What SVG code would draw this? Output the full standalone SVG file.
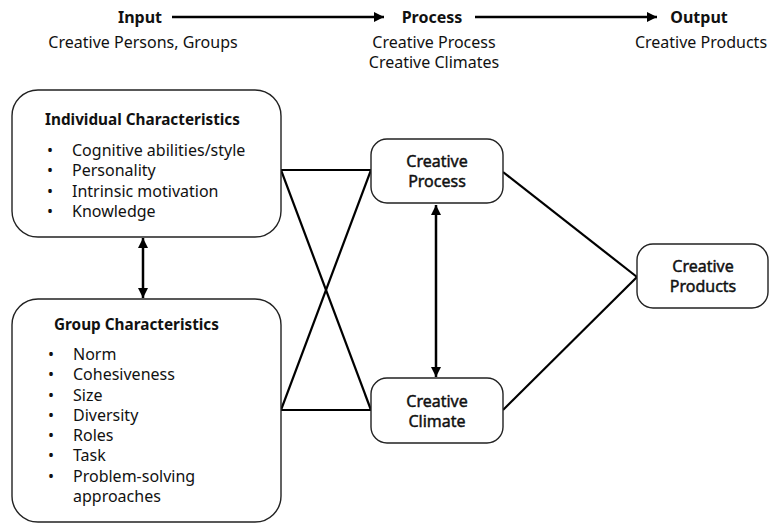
<svg xmlns="http://www.w3.org/2000/svg" width="770" height="524" viewBox="0 0 770 524">
<defs>
<marker id="ah" viewBox="0 0 10 10" refX="10" refY="5" markerWidth="4" markerHeight="4" orient="auto-start-reverse" markerUnits="strokeWidth">
<path d="M0,0 L10,5 L0,10 z" fill="#000"/>
</marker>
</defs>
<style>
text{font-family:"Noto Sans","Open Sans",sans-serif;fill:#111;font-size:16px}
.b{font-weight:700}
.t{font-size:15.3px}
.m{stroke:#111;stroke-width:0.45}
.c{text-anchor:middle}
.box{fill:#fff;stroke:#222;stroke-width:1.4}
.ln{stroke:#000;stroke-width:2.2;fill:none}
.ar{stroke:#000;stroke-width:2.5;fill:none;marker-end:url(#ah)}
.da{stroke:#000;stroke-width:2.5;fill:none;marker-end:url(#ah);marker-start:url(#ah)}
</style>
<rect width="770" height="524" fill="#fff"/>
<g id="header">
<text class="b c" x="140" y="23">Input</text>
<text class="b c" x="432" y="23">Process</text>
<text class="b c" x="699" y="23">Output</text>
<text class="c" x="143" y="48">Creative Persons, Groups</text>
<text class="c" x="434" y="48">Creative Process</text>
<text class="c" x="434" y="68">Creative Climates</text>
<text class="c" x="701" y="48">Creative Products</text>
</g>
<g id="connectors">
<line class="ar" x1="172" y1="17" x2="384" y2="17"/>
<line class="ar" x1="475" y1="17" x2="657" y2="17"/>
<line class="da" x1="143" y1="238" x2="143" y2="298"/>
<line class="da" x1="436" y1="205" x2="436" y2="377"/>
<line class="ln" x1="281" y1="170" x2="371" y2="170"/>
<line class="ln" x1="281" y1="410" x2="371" y2="410"/>
<line class="ln" x1="281" y1="170" x2="371" y2="410"/>
<line class="ln" x1="281" y1="410" x2="371" y2="170"/>
<line class="ln" x1="503" y1="172" x2="637" y2="277"/>
<line class="ln" x1="503" y1="410" x2="637" y2="277"/>
</g>
<g id="individual">
<rect class="box" x="12" y="90" width="269" height="147" rx="26"/>
<text class="b t" x="45" y="125">Individual Characteristics</text>
<text x="47" y="156">•</text><text x="72" y="156">Cognitive abilities/style</text>
<text x="47" y="176">•</text><text x="72" y="176">Personality</text>
<text x="47" y="197">•</text><text x="72" y="197">Intrinsic motivation</text>
<text x="47" y="217">•</text><text x="72" y="217">Knowledge</text>
</g>
<g id="group">
<rect class="box" x="12" y="299" width="269" height="223" rx="26"/>
<text class="b t" x="54" y="330">Group Characteristics</text>
<text x="48" y="360">•</text><text x="73" y="360">Norm</text>
<text x="48" y="380">•</text><text x="73" y="380">Cohesiveness</text>
<text x="48" y="401">•</text><text x="73" y="401">Size</text>
<text x="48" y="421">•</text><text x="73" y="421">Diversity</text>
<text x="48" y="441">•</text><text x="73" y="441">Roles</text>
<text x="48" y="461">•</text><text x="73" y="461">Task</text>
<text x="48" y="482">•</text><text x="73" y="482">Problem-solving</text>
<text x="73" y="502">approaches</text>
</g>
<g id="process">
<rect class="box" x="371" y="139" width="132" height="64" rx="16"/>
<text class="m c" x="437" y="167">Creative</text>
<text class="m c" x="437" y="187">Process</text>
</g>
<g id="climate">
<rect class="box" x="371" y="378" width="132" height="65" rx="16"/>
<text class="m c" x="437" y="407">Creative</text>
<text class="m c" x="437" y="427">Climate</text>
</g>
<g id="products">
<rect class="box" x="637" y="244" width="131" height="64" rx="16"/>
<text class="m c" x="703" y="272">Creative</text>
<text class="m c" x="703" y="292">Products</text>
</g>
</svg>
